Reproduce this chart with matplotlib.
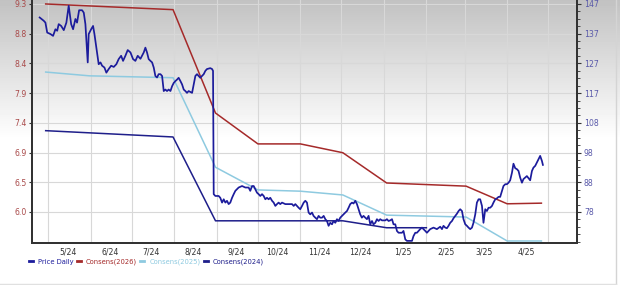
import matplotlib
matplotlib.use('Agg')
import matplotlib.pyplot as plt
import matplotlib.dates as mdates
from matplotlib.ticker import FixedLocator, FuncFormatter, AutoMinorLocator
from matplotlib.lines import Line2D
import numpy as np
import datetime as dt

# price trace, days counted from 2024-05-01, values on the right axis
price_start = '2024-05-01'
price_day = [-6.4, -3.4, -2.2, -0.9, 1.5, 3.4, 5.1, 6.4, 7.5, 9.3, 11.2, 13.1, 14.8, 16.6, 18.0, 19.7,
             20.9, 22.4, 24.6, 25.8, 27.0, 28.7, 29.4, 31.2, 32.6, 33.6, 35.0, 36.7, 38.0, 39.2, 40.9,
             42.3, 44.0, 45.8, 47.7, 49.6, 51.3, 53.1, 54.5, 56.2, 57.9, 59.9, 61.8, 63.5, 65.2, 67.2,
             69.6, 70.8, 72.0, 73.2, 74.5, 75.7, 76.9, 78.1, 79.3, 80.5, 81.8, 83.0, 84.2, 85.4, 86.6,
             87.8, 89.1, 90.3, 91.5, 92.7, 93.9, 95.1, 96.4, 97.6, 98.8, 100.0, 101.2, 102.4, 103.6,
             104.9, 106.1, 107.3, 108.5, 109.7, 110.9, 112.2, 113.4, 114.6, 115.8, 118.2, 119.5, 120.2,
             120.7, 121.9, 124.3, 125.5, 126.8, 128.0, 129.2, 130.4, 131.6, 132.8, 134.1, 135.3, 136.5,
             138.9, 141.4, 143.8, 146.2, 147.4, 148.7, 149.9, 151.1, 152.3, 153.5, 154.7, 156.0, 157.2,
             158.4, 159.6, 160.8, 162.0, 163.3, 164.5, 165.7, 166.9, 168.1, 169.3, 170.6, 173.0, 175.4,
             177.9, 179.1, 180.3, 181.5, 182.7, 183.9, 185.2, 186.4, 187.6, 188.8, 190.0, 191.2, 192.5,
             193.6, 194.9, 196.1, 197.3, 198.5, 199.8, 201.0, 202.2, 203.4, 204.6, 205.8, 207.1, 208.2,
             209.5, 210.7, 211.9, 213.1, 214.4, 215.5, 216.8, 218.0, 219.2, 220.4, 221.7, 222.8, 224.1,
             225.3, 226.5, 227.7, 228.9, 230.1, 231.4, 232.6, 233.8, 235.0, 236.3, 237.4, 238.7, 239.9,
             241.1, 242.3, 243.6, 246.0, 247.2, 248.4, 249.6, 250.9, 252.0, 253.3, 254.5, 255.7, 258.2,
             259.3, 260.6, 261.8, 264.2, 265.5, 266.6, 267.9, 269.1, 270.3, 271.5, 272.8, 273.9, 275.2,
             276.4, 277.6, 278.8, 281.2, 283.7, 286.1, 287.4, 288.5, 289.8, 291.0, 292.2, 293.4, 294.7,
             295.8, 297.1, 298.3, 299.5, 300.7, 302.0, 303.1, 304.4, 305.6, 306.8, 308.0, 309.3, 310.4,
             311.7, 312.9, 314.1, 315.3, 316.6, 317.7, 319.0, 320.2, 321.4, 322.6, 323.9, 325.0, 326.3,
             327.5, 328.7, 329.9, 331.2, 332.3, 333.6, 334.8, 336.0, 337.2, 338.5, 339.6, 340.9, 342.1,
             343.3, 344.5, 345.8, 346.9, 348.2, 349.4, 350.6, 351.8, 353.1, 354.2, 355.5, 356.7, 357.9,
             359.1, 360.4, 361.1]
price_val = [142.5, 141.4, 140.8, 137.5, 137.0, 136.4, 138.6, 138.1, 140.3, 139.7, 138.3, 140.8, 146.4,
             140.3, 138.6, 142.0, 140.8, 144.9, 144.9, 144.1, 140.3, 127.6, 137.0, 138.6, 139.7, 137.0,
             132.5, 127.0, 127.6, 126.5, 125.9, 124.2, 125.4, 126.5, 126.1, 127.0, 128.7, 129.8, 128.1,
             129.8, 131.7, 130.9, 128.7, 128.1, 129.8, 128.8, 130.9, 132.5, 130.9, 128.7, 128.1, 127.6,
             125.9, 123.1, 122.6, 123.7, 123.7, 123.1, 118.1, 118.6, 118.1, 118.6, 118.1, 119.7, 120.8,
             121.4, 121.9, 122.5, 121.4, 120.3, 118.6, 118.1, 117.5, 118.1, 117.8, 117.5, 120.3, 123.1,
             123.7, 123.1, 122.5, 123.1, 123.7, 124.8, 125.4, 125.7, 125.4, 124.8,
             83.9, 83.3, 83.3, 82.7, 81.1, 82.2, 81.1, 81.7, 80.6, 81.1, 82.7, 83.9, 85.0,
             86.1, 86.6, 86.1, 86.1, 85.0, 86.6, 86.6, 85.5, 84.4, 83.9, 83.3, 83.9, 83.3,
             82.2, 82.7, 82.2, 82.7, 81.7, 81.1, 80.0, 80.6, 81.1, 80.6, 81.1, 80.6, 80.6,
             80.6, 80.0, 80.6, 80.0, 79.4, 78.9, 80.0, 81.1, 81.7, 81.1, 77.8, 77.2, 77.8,
             76.7, 76.1, 75.6, 76.7, 76.1, 76.1, 76.7, 75.6, 75.0, 73.4, 74.4, 73.9, 75.0,
             74.4, 75.6, 75.0, 76.1, 76.7, 77.2, 77.8, 78.3, 79.4, 80.6, 81.1, 80.8, 81.7,
             80.6, 78.9, 77.2, 76.1, 76.7, 76.1, 75.6, 76.7, 73.9, 75.0, 73.9, 74.4, 75.6,
             75.0, 75.6, 75.2, 75.2, 75.6, 75.0, 75.2, 75.6, 73.9, 73.9, 71.7, 71.1, 71.1,
             71.7, 68.9, 68.4, 68.4, 68.4, 70.0, 71.1, 71.1, 71.7, 72.3, 72.8, 72.3, 71.7,
             71.1, 71.7, 72.3, 72.8, 72.3, 73.1, 72.3, 73.4, 72.8, 72.6, 73.4, 74.4, 75.0,
             75.9, 76.7, 77.4, 78.3, 78.9, 78.3, 75.6, 73.9, 73.4, 72.8, 72.3, 72.8, 74.4,
             77.2, 81.1, 82.2, 82.2, 80.0, 74.4, 78.9, 78.3, 79.4, 79.4, 80.0, 81.1, 82.2,
             82.5, 83.0, 83.0, 85.0, 86.6, 87.2, 87.2, 87.7, 88.5, 91.0, 94.0, 92.5, 92.2,
             91.6, 89.4, 87.7, 88.9, 89.4, 89.9, 89.2, 88.5, 91.6, 92.7, 93.3, 94.4, 95.5,
             96.6, 94.9, 93.6]

# consensus EPS estimates (left axis)
cons26_dates = ['2024-04-29', '2024-07-31', '2024-08-31', '2024-10-01', '2024-11-01', '2024-12-02',
                '2025-01-03', '2025-03-02', '2025-04-01', '2025-04-26']
cons26 = [9.30, 9.21, 7.57, 7.08, 7.08, 6.94, 6.46, 6.41, 6.13, 6.14]
cons25_dates = ['2024-04-29', '2024-05-31', '2024-07-31', '2024-08-31', '2024-10-01', '2024-11-01',
                '2024-12-02', '2025-01-03', '2025-03-02', '2025-04-01', '2025-04-26']
cons25 = [8.22, 8.16, 8.13, 6.71, 6.35, 6.33, 6.27, 5.95, 5.92, 5.54, 5.54]
cons24_dates = ['2024-04-29', '2024-07-31', '2024-08-31', '2024-12-02', '2025-01-03', '2025-02-01']
cons24 = [7.29, 7.19, 5.86, 5.86, 5.75, 5.75]

month_labels = ['2024-05-15', '2024-06-15', '2024-07-15', '2024-08-15', '2024-09-15', '2024-10-15',
                '2024-11-15', '2024-12-15', '2025-01-15', '2025-02-15', '2025-03-15', '2025-04-15']
left_labels = ['6.0', '6.5', '6.9', '7.4', '7.9', '8.4', '8.8', '9.3']
right_labels = ['78', '88', '98', '108', '117', '127', '137', '147']

c_price = '#1c1c9c'
c_26 = '#a52a2a'
c_25 = '#8ecae0'
c_24 = '#1e1e8a'


def to_num(dates):
    return mdates.date2num([dt.datetime.strptime(d, '%Y-%m-%d') for d in dates])


fig = plt.figure(figsize=(6.2, 2.85), dpi=100)

# gray-to-white background
bg = fig.add_axes([0, 0, 1, 1], zorder=-10)
grad = np.clip(np.linspace(0.76, 1.25, 285), 0, 1).reshape(-1, 1)
bg.imshow(grad, cmap='gray', vmin=0, vmax=1, aspect='auto', extent=[0, 1, 0, 1], origin='upper')
bg.plot([616 / 620, 616 / 620], [0.005, 1], color='#d4d4d4', lw=1)
bg.plot([0, 616 / 620], [0.005, 0.005], color='#e0e0e0', lw=1)
bg.set_xlim(0, 1)
bg.set_ylim(0, 1)
bg.axis('off')

ax = fig.add_axes([32 / 620, 42 / 285, 545 / 620, 243 / 285])
ax.patch.set_alpha(0)
ax2 = ax.twinx()

l26, = ax.plot(to_num(cons26_dates), cons26, color=c_26, lw=1.1)
l25, = ax.plot(to_num(cons25_dates), cons25, color=c_25, lw=1.1)
l24, = ax.plot(to_num(cons24_dates), cons24, color=c_24, lw=1.1)

x0 = mdates.date2num(dt.datetime.strptime(price_start, '%Y-%m-%d'))
lp, = ax2.plot(x0 + np.array(price_day), price_val, color=c_price, lw=1.25)

ax.set_xlim(mdates.date2num(dt.datetime(2024, 4, 19)), mdates.date2num(dt.datetime(2025, 5, 22)))
ax.set_ylim(5.508, 9.363)
ax2.set_ylim(67.7, 148.3)

ax.yaxis.set_major_locator(FixedLocator(np.linspace(6.0, 9.3, 8)))
ax.set_yticklabels(left_labels)
ax2.yaxis.set_major_locator(FixedLocator(np.linspace(78, 147, 8)))
ax2.set_yticklabels(right_labels)
ax2.yaxis.set_minor_locator(AutoMinorLocator(4))

ax.xaxis.set_major_locator(FixedLocator(to_num(month_labels)))
ax.xaxis.set_minor_locator(mdates.MonthLocator(bymonthday=1))
ax.xaxis.set_major_formatter(FuncFormatter(
    lambda v, p: '%d/%s' % (mdates.num2date(v).month, mdates.num2date(v).strftime('%y'))))

ax.grid(True, which='minor', axis='x', color='#d8d8d8', lw=0.8)
ax.grid(True, which='major', axis='y', color='#d8d8d8', lw=0.8)
ax.set_axisbelow(True)

for a in (ax, ax2):
    a.spines['top'].set_visible(False)
    for s in ('left', 'bottom', 'right'):
        a.spines[s].set_color('#333333')
        a.spines[s].set_linewidth(1.4)

ax.tick_params(axis='x', which='both', length=0, pad=3, labelsize=5.6, labelcolor='#333333')
ax.tick_params(axis='y', length=2, width=0.8, color='#333333', pad=2, labelsize=5.6, labelcolor='#a94a4a')
ax2.tick_params(axis='y', which='major', length=3, width=0.8, color='#333333', pad=2,
                labelsize=5.6, labelcolor='#5a5aaa')
ax2.tick_params(axis='y', which='minor', length=2, width=0.6, color='#333333')

handles = [Line2D([], [], color=c, lw=2) for c in (c_price, c_26, c_25, c_24)]
fig.legend(handles, ['Price Daily', 'Consens(2026)', 'Consens(2025)', 'Consens(2024)'],
           loc='center left', bbox_to_anchor=(0.047, 0.081), ncol=4, frameon=False,
           handlelength=0.6, handletextpad=0.7, columnspacing=0.5, fontsize=4.9,
           labelcolor='linecolor', borderpad=0, borderaxespad=0)

fig.savefig('out.png', dpi=100)
